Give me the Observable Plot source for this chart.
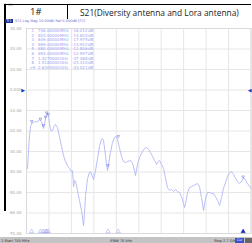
<!DOCTYPE html>
<html>
<head>
<meta charset="utf-8">
<script src="https://cdn.jsdelivr.net/npm/d3@7"></script>
<script src="https://cdn.jsdelivr.net/npm/@observablehq/plot@0.6"></script>
<style>
  html, body { margin:0; padding:0; background:#fff; }
  #wrap { position:relative; width:252px; height:243px; overflow:hidden; background:#fff; font-family:"DejaVu Sans", sans-serif; }
  #wrap svg { position:absolute; left:0; top:0; }
  .abs { position:absolute; white-space:nowrap; }
  .mk { position:absolute; font-size:4px; line-height:4px; color:#9a9ef2; }
</style>
</head>
<body>
<div id="wrap"></div>
<script>
// ---- data ----
const freqMHz = [709,718,727,736,745,762,780,798,816,834,843,851,860,869,878,887,896,905,914,923,932,941,958,976,994,1012,1030,1047,1065,1083,1101,1110,1119,1128,1137,1154,1172,1190,1208,1217,1226,1244,1261,1270,1288,1297,1315,1333,1350,1368,1377,1386,1404,1413,1422,1431,1448,1466,1484,1502,1511,1529,1547,1564,1582,1600,1627,1645,1662,1671,1689,1707,1734,1752,1769,1787,1805,1823,1841,1859,1876,1885,1903,1921,1939,1956,1974,1992,2010,2028,2045,2063,2081,2099,2108,2117,2135,2152,2170,2188,2206,2224,2241,2259,2277,2295,2313,2331,2349,2366,2384,2402,2420,2438,2455,2473,2491,2509,2527,2545,2562,2580,2598,2616,2634,2652,2669,2687,2700];
const s21dB = [-38.3,-29.5,-22.2,-17.8,-16.3,-15.9,-15.4,-15.4,-14.4,-15.4,-16.8,-18.8,-17.3,-13.9,-12.0,-11.5,-12.9,-16.3,-19.3,-20.2,-19.8,-18.3,-16.8,-18.3,-22.7,-27.6,-32.0,-34.9,-36.8,-38.3,-39.8,-39.3,-47.1,-44.1,-44.6,-49.0,-53.9,-58.8,-66.1,-59.8,-51.5,-43.2,-40.2,-39.8,-42.2,-43.7,-39.3,-33.4,-27.6,-24.1,-23.7,-24.6,-32.0,-36.8,-39.3,-36.3,-30.5,-25.6,-23.2,-22.7,-24.1,-28.5,-32.4,-34.9,-35.4,-34.9,-34.4,-35.9,-39.3,-41.7,-36.3,-32.9,-30.0,-28.5,-28.0,-29.0,-30.5,-32.4,-34.4,-36.3,-34.9,-34.4,-36.3,-38.3,-43.2,-47.6,-49.0,-48.5,-49.5,-48.5,-49.5,-50.0,-52.0,-55.4,-57.3,-55.4,-50.0,-47.6,-47.1,-46.6,-46.1,-45.6,-47.1,-52.4,-58.8,-53.0,-50.0,-50.0,-50.5,-50.5,-52.0,-53.9,-56.3,-52.4,-48.0,-45.1,-42.2,-40.2,-39.8,-41.2,-43.2,-44.6,-45.6,-44.6,-42.7,-44.1,-45.6,-47.1,-48.0];

const markerNo    = ["1","2","3","4","5","6","7","8",">9"];
const markerMHz   = [746,824,849,869,880,894,1427,1518,2630];
const markerDB    = [-16.012,-14.803,-17.975,-13.912,-11.806,-12.597,-37.488,-23.310,-43.021];
const markerActive= [false,false,false,false,false,false,false,false,true];

const yTicks = [30,20,10,0,-10,-20,-30,-40,-50,-60,-70];
const xTicks = [700,900,1100,1300,1500,1700,1900,2100,2300,2500,2700];

const titleLeft  = "1#";
const titleRight = "S21(Diversity antenna and Lora antenna)";
const statusTop  = "S21 Log Mag 10.00dB/ Ref 0.000dB [F2]";
const statusBottom = ["1  Start 700 MHz", "IFBW 70 kHz", "Stop 2.7 GHz"];

// ---- build ----
const trace = freqMHz.map((f,i)=>({f, db:s21dB[i]}));
const markers = markerMHz.map((f,i)=>({f, db:markerDB[i], n:markerNo[i], act:markerActive[i]}));

const chart = Plot.plot({
  width:252, height:243,
  marginLeft:26, marginRight:1.5, marginTop:28, marginBottom:10,
  style:{fontFamily:"DejaVu Sans, sans-serif", fontSize:"4px", background:"transparent"},
  x:{domain:[700,2700], axis:null},
  y:{domain:[-70,30], axis:null},
  marks:[
    Plot.gridX(xTicks,{stroke:"#e6e6e6", strokeOpacity:1}),
    Plot.gridY(yTicks,{stroke:"#e6e6e6", strokeOpacity:1}),
    Plot.frame({stroke:"#dadada"}),
    Plot.axisY(yTicks,{tickSize:0, tickPadding:5, fontSize:4, fill:"#a4a4a4",
      tickFormat:d=> d===0 ? "0.000" : d.toFixed(2)}),
    Plot.line(trace,{x:"f", y:"db", stroke:"#adb2f5", strokeWidth:0.85}),
    Plot.dot(markers,{x:"f", y:"db", symbol:"triangle", rotate:180, r:1, dy:-1.5,
      stroke:"#6a70d4", strokeWidth:0.5, fill:"none"}),
    Plot.dot(markers,{x:"f", y:()=>-70, symbol:"triangle", r:1.6, dy:-2,
      stroke:d=>d.act?"#1a2bb8":"#9a9ef0", fill:d=>d.act?"#1a2bb8":"none", strokeWidth:0.5}),
    Plot.text([0],{x:()=>700, y:d=>d, text:()=>"\u25B6", dx:-1.5, textAnchor:"end", fill:"#1f3fc0", fontSize:5}),
    Plot.text([0],{x:()=>2700, y:d=>d, text:()=>"\u25C0", dx:0.5, textAnchor:"end", fill:"#1f3fc0", fontSize:5})
  ]
});

const wrap = document.getElementById("wrap");
wrap.appendChild(chart);

function add(html, css, cls){
  const d = document.createElement("div");
  d.className = cls || "abs";
  d.innerHTML = html;
  Object.assign(d.style, css);
  wrap.appendChild(d);
  return d;
}
// table borders (document cells)
add("", {left:"5px", top:"4px", width:"246px", height:"1px", background:"#000"});
add("", {left:"4px", top:"4px", width:"1.6px", height:"207px", background:"#000"});
add("", {left:"66.5px", top:"4px", width:"1px", height:"15px", background:"#000"});
// titles
add(titleLeft, {left:"30px", top:"6px", fontFamily:"'Open Sans', sans-serif", fontSize:"9.5px", lineHeight:"12px", color:"#222"});
add(titleRight, {left:"80px", top:"7px", fontFamily:"'Open Sans', sans-serif", fontSize:"8.4px", lineHeight:"12px", color:"#222"});
// top status line
add("Tr1", {left:"5px", top:"18.5px", width:"8px", height:"4px", background:"#1c2a9a", color:"#fff", fontSize:"3.3px", lineHeight:"4px", textAlign:"center"});
add(statusTop, {left:"15px", top:"18.5px", fontSize:"3.5px", lineHeight:"4px", color:"#6a70cc"});
// marker table
markers.forEach((m,i)=>{
  const top = 29 + i*4.6;
  const fs = m.f>=1000 ? (m.f/1000).toFixed(7) : m.f.toFixed(5);
  const unit = m.f>=1000 ? "GHz" : "MHz";
  add(m.n, {left:(m.n.length>1?"29.5px":"31.5px"), top:top+"px"}, "mk");
  add(fs, {left:"38px", top:top+"px"}, "mk");
  add(unit, {left:"60px", top:top+"px"}, "mk");
  add(m.db.toFixed(3), {left:"72px", top:top+"px"}, "mk");
  add("dB", {left:"88px", top:top+"px"}, "mk");
});
// bottom status bar
add("", {left:"0px", top:"237px", width:"252px", height:"6px", background:"#c4c4c4"});
add(statusBottom[0], {left:"1px", top:"238.5px", fontSize:"3.5px", lineHeight:"4px", color:"#333"});
add(statusBottom[1], {left:"110px", top:"238.5px", fontSize:"3.5px", lineHeight:"4px", color:"#333"});
add(statusBottom[2], {left:"214px", top:"238.5px", fontSize:"3.5px", lineHeight:"4px", color:"#333"});
add("Cor", {left:"235px", top:"238px", width:"9px", height:"5px", background:"#3a4fd0", color:"#fff", fontSize:"3.3px", lineHeight:"5px", textAlign:"center"});
add("", {left:"245px", top:"238px", width:"7px", height:"5px", background:"#666"});
</script>
</body>
</html>
